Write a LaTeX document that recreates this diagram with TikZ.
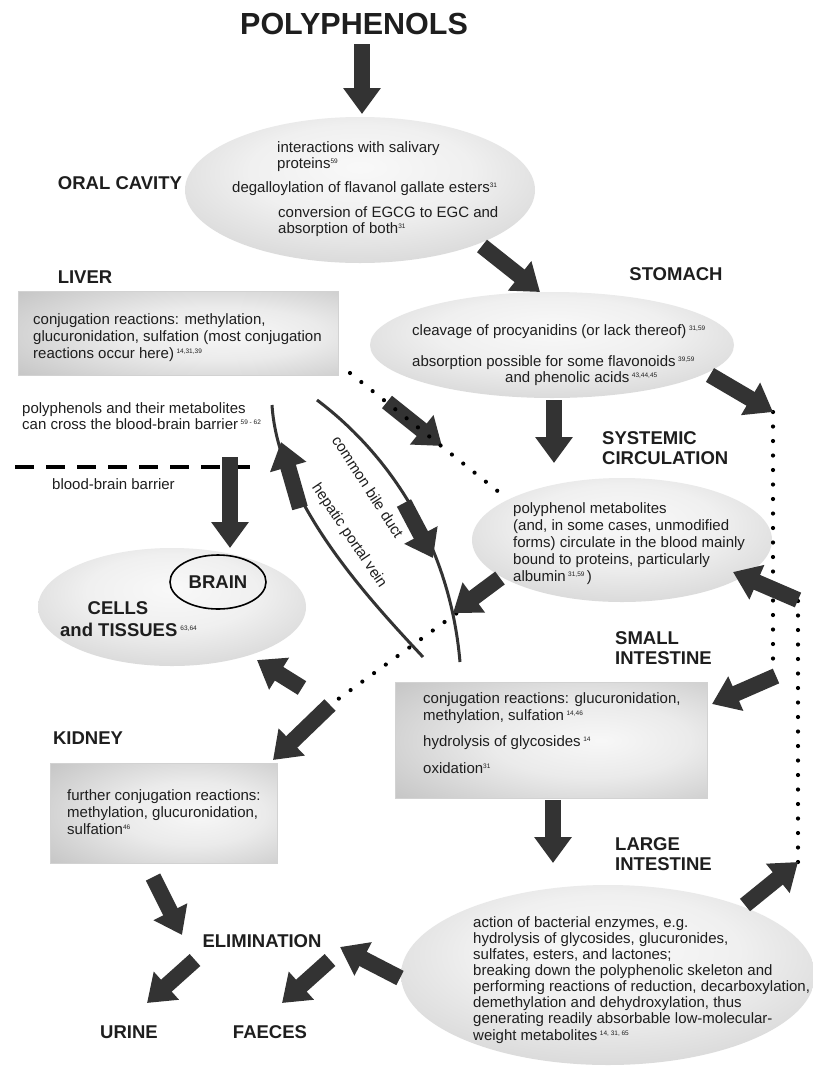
\documentclass[tikz,border=0pt]{standalone}
\usepackage{fontspec}
\setmainfont{Liberation Sans}
\usetikzlibrary{arrows.meta,shapes.geometric}
\definecolor{arrowc}{HTML}{333333}
\definecolor{txtc}{HTML}{1E1E1E}
\pgfdeclareradialshading{ellshade}{\pgfpoint{0bp}{8bp}}{color(0bp)=(gray!5); color(16bp)=(gray!12); color(50bp)=(gray!52); color(80bp)=(gray!58)}
\pgfdeclareradialshading{boxshade}{\pgfpoint{8bp}{0bp}}{color(0bp)=(gray!6); color(16bp)=(gray!16); color(50bp)=(gray!60); color(80bp)=(gray!68)}
\newcommand\sups[1]{\raisebox{0.62ex}{\normalfont\fontsize{6.5}{7}\selectfont #1}}
\begin{document}
\begin{tikzpicture}[x=1pt,y=-1pt,
  txt/.style={anchor=base west, inner sep=0pt, font=\fontsize{15}{16.5}\selectfont, text=txtc},
  lab/.style={inner sep=0pt, font=\bfseries\fontsize{18.5}{20}\selectfont, text=txtc},
  fat/.style={draw=arrowc, line width=16pt, -{Triangle[length=26pt,width=36pt]}},
  dots/.style={draw=black, line width=4.2pt, line cap=round, dash pattern=on 0pt off 14.5pt},
  duct/.style={draw=arrowc, line width=3pt},
  ell/.style={ellipse, shade, shading=ellshade, inner sep=0pt},
  box/.style={rectangle, shade, shading=boxshade, inner sep=0pt, draw=gray!35, line width=0.8pt, anchor=north west}]
\path[use as bounding box, fill=white] (0,0) rectangle (812,1069);

% ---------- shapes ----------
\node[ell, minimum width=350pt, minimum height=146pt] (oral) at (360,190) {};
\node[ell, minimum width=364pt, minimum height=106pt] (stomach) at (552,345) {};
\node[ell, minimum width=300pt, minimum height=124pt] (sc) at (622,540) {};
\node[ell, minimum width=268pt, minimum height=118pt] (cells) at (172,607) {};
\node[ell, minimum width=414pt, minimum height=180pt] (large) at (608,975) {};
\node[box, minimum width=320pt, minimum height=84pt] (liver) at (18,291) {};
\node[box, minimum width=312pt, minimum height=116pt] (small) at (395,682) {};
\node[box, minimum width=227pt, minimum height=100pt] (kidney) at (50,763) {};

% ---------- labels ----------
\node[lab, font=\bfseries\fontsize{30.5}{32}\selectfont] (poly) at (354,24) {POLYPHENOLS};
\node[lab] (oralL) at (120,183) {ORAL CAVITY};
\node[lab] (stomL) at (676,274) {STOMACH};
\node[lab] (liverL) at (85,277) {LIVER};
\node[lab, align=left, anchor=west] (scL) at (602,448) {SYSTEMIC\\CIRCULATION};
\node[lab, align=left, anchor=west] (smallL) at (615,648) {SMALL\\INTESTINE};
\node[lab, align=left, anchor=west] (largeL) at (615,854) {LARGE\\INTESTINE};
\node[lab] (kidL) at (88,738) {KIDNEY};
\node[lab] (elim) at (262,941) {ELIMINATION};
\node[lab] (urine) at (129,1032) {URINE};
\node[lab] (faeces) at (270,1032) {FAECES};
\node[lab, draw=black, line width=1.6pt, ellipse, minimum width=96pt, minimum height=54pt] (brain) at (218,582) {BRAIN};
\node[lab] (cellsL) at (118,608) {CELLS};
\node[lab, anchor=west] (tissL) at (60,630) {and TISSUES\,\sups{63,64}};

% ---------- texts ----------
\node[txt] (o1) at (277,152) {interactions with salivary};
\node[txt] (o2) at (277,168) {proteins\sups{59}};
\node[txt] (o3) at (232,192) {degalloylation of flavanol gallate esters\sups{31}};
\node[txt] (o4) at (278,217) {conversion of EGCG to EGC and};
\node[txt] (o5) at (278,233) {absorption of both\sups{31}};

\node[txt] (l1) at (33,324) {conjugation reactions: methylation,};
\node[txt] (l2) at (33,341) {glucuronidation, sulfation (most conjugation};
\node[txt] (l3) at (33,358) {reactions occur here)\,\sups{14,31,39}};

\node[txt] (s1) at (412,335) {cleavage of procyanidins (or lack thereof)\,\sups{31,59}};
\node[txt] (s2) at (412,366) {absorption possible for some flavonoids\,\sups{39,59}};
\node[txt] (s3) at (505,382) {and phenolic acids\,\sups{43,44,45}};

\node[txt] (b1) at (22,413) {polyphenols and their metabolites};
\node[txt] (b2) at (22,429) {can cross the blood-brain barrier\,\sups{59 - 62}};
\node[txt] (b3) at (52,489) {blood-brain barrier};

\node[txt] (c1) at (513,513) {polyphenol metabolites};
\node[txt] (c2) at (513,530) {(and, in some cases, unmodified};
\node[txt] (c3) at (513,547) {forms) circulate in the blood mainly};
\node[txt] (c4) at (513,564) {bound to proteins, particularly};
\node[txt] (c5) at (513,581) {albumin\,\sups{31,59}\,)};

\node[txt] (i1) at (423,703) {conjugation reactions: glucuronidation,};
\node[txt] (i2) at (423,720) {methylation, sulfation\,\sups{14,46}};
\node[txt] (i3) at (423,746) {hydrolysis of glycosides\,\sups{14}};
\node[txt] (i4) at (423,773) {oxidation\sups{31}};

\node[txt] (k1) at (67,800) {further conjugation reactions:};
\node[txt] (k2) at (67,817) {methylation, glucuronidation,};
\node[txt] (k3) at (67,834) {sulfation\sups{46}};

\node[txt] (g1) at (473,927) {action of bacterial enzymes, e.g.};
\node[txt] (g2) at (473,943) {hydrolysis of glycosides, glucuronides,};
\node[txt] (g3) at (473,959) {sulfates, esters, and lactones;};
\node[txt] (g4) at (473,975) {breaking down the polyphenolic skeleton and};
\node[txt] (g5) at (473,991) {performing reactions of reduction, decarboxylation,};
\node[txt] (g6) at (473,1007) {demethylation and dehydroxylation, thus};
\node[txt] (g7) at (473,1023) {generating readily absorbable low-molecular-};
\node[txt] (g8) at (473,1040) {weight metabolites\,\sups{14, 31, 65}};

% ---------- coordinates ----------
\coordinate (polyA) at (362,44); \coordinate (polyH) at (362,114);
\coordinate (oralA) at (482,246); \coordinate (stomH) at (540,292);
\coordinate (stomA) at (554,400); \coordinate (scTop) at (554,463);
\coordinate (stomR) at (710,375);
\coordinate (bbbL) at (15,467); \coordinate (bbbR) at (250,467);
\coordinate (hpvB) at (423,657); \coordinate (hpvT) at (272,405);
\coordinate (bdT) at (317,400); \coordinate (bdB) at (460,662);
\coordinate (hpvA) at (300,508); \coordinate (hpvH) at (281,442);
\coordinate (bdA) at (404,503); \coordinate (bdH) at (433,558);
\coordinate (ld1) at (350,373); \coordinate (ld2) at (500,493);
\coordinate (laA) at (387,402); \coordinate (laH) at (442,446);
\coordinate (junc) at (453,613); \coordinate (scOut) at (500,578);
\coordinate (kd1) at (468,605); \coordinate (kd2) at (330,705);
\coordinate (cellT) at (302,688); \coordinate (cellH) at (257,660);
\coordinate (kidH) at (273,760);
\coordinate (rdT) at (773,412); \coordinate (rdB) at (773,670);
\coordinate (siH) at (712,704); \coordinate (siT) at (776,676);
\coordinate (r2T) at (798,600); \coordinate (r2B) at (798,862);
\coordinate (scH) at (733,572);
\coordinate (liOut) at (745,905);
\coordinate (siA) at (553,800); \coordinate (liTop) at (553,863);
\coordinate (liLeft) at (400,978); \coordinate (elimR) at (340,947);
\coordinate (kidA) at (153,877); \coordinate (elimL) at (182,935);
\coordinate (urA) at (195,960); \coordinate (urH) at (147,1003);
\coordinate (faA) at (330,960); \coordinate (faH) at (282,1003);
\coordinate (bbbA) at (230,457); \coordinate (bbbH) at (230,548);

% ---------- lines ----------
\draw[line width=4pt, dash pattern=on 19pt off 12pt] (bbbL) -- (bbbR);
\draw[duct] (hpvB) .. controls (365,595) and (278,500) .. (hpvT);
\draw[duct] (bdT) .. controls (390,455) and (450,545) .. (bdB);
\draw[dots] (kd1) -- (kd2);
\draw[dots] (rdT) -- (rdB);
\draw[dots] (r2B) -- (r2T);

% ---------- fat arrows ----------
\draw[fat] (polyA) -- (polyH);
\draw[fat] (oralA) -- (stomH);
\draw[fat] (stomA) -- (scTop);
\draw[fat] (stomR) -- (rdT);
\draw[fat] (siT) -- (siH);
\draw[fat] (laA) -- (laH);
\draw[dots] (ld1) -- (ld2);
\draw[fat] (hpvA) -- (hpvH);
\draw[fat] (bdA) -- (bdH);
\draw[fat] (scOut) -- (junc);
\draw[fat] (r2T) -- (scH);
\draw[fat] (liOut) -- (r2B);
\draw[fat] (siA) -- (liTop);
\draw[fat] (bbbA) -- (bbbH);
\draw[fat] (cellT) -- (cellH);
\draw[fat] (kd2) -- (kidH);
\draw[fat] (liLeft) -- (elimR);
\draw[fat] (kidA) -- (elimL);
\draw[fat] (urA) -- (urH);
\draw[fat] (faA) -- (faH);

% ---------- curve labels ----------
\node[font=\fontsize{15}{16}\selectfont, text=txtc, rotate=-57, inner sep=0pt] (cbd) at (368,487) {common bile duct};
\node[font=\fontsize{15}{16}\selectfont, text=txtc, rotate=-56, inner sep=0pt] (hpv) at (349,536) {hepatic portal vein};
\end{tikzpicture}
\end{document}
